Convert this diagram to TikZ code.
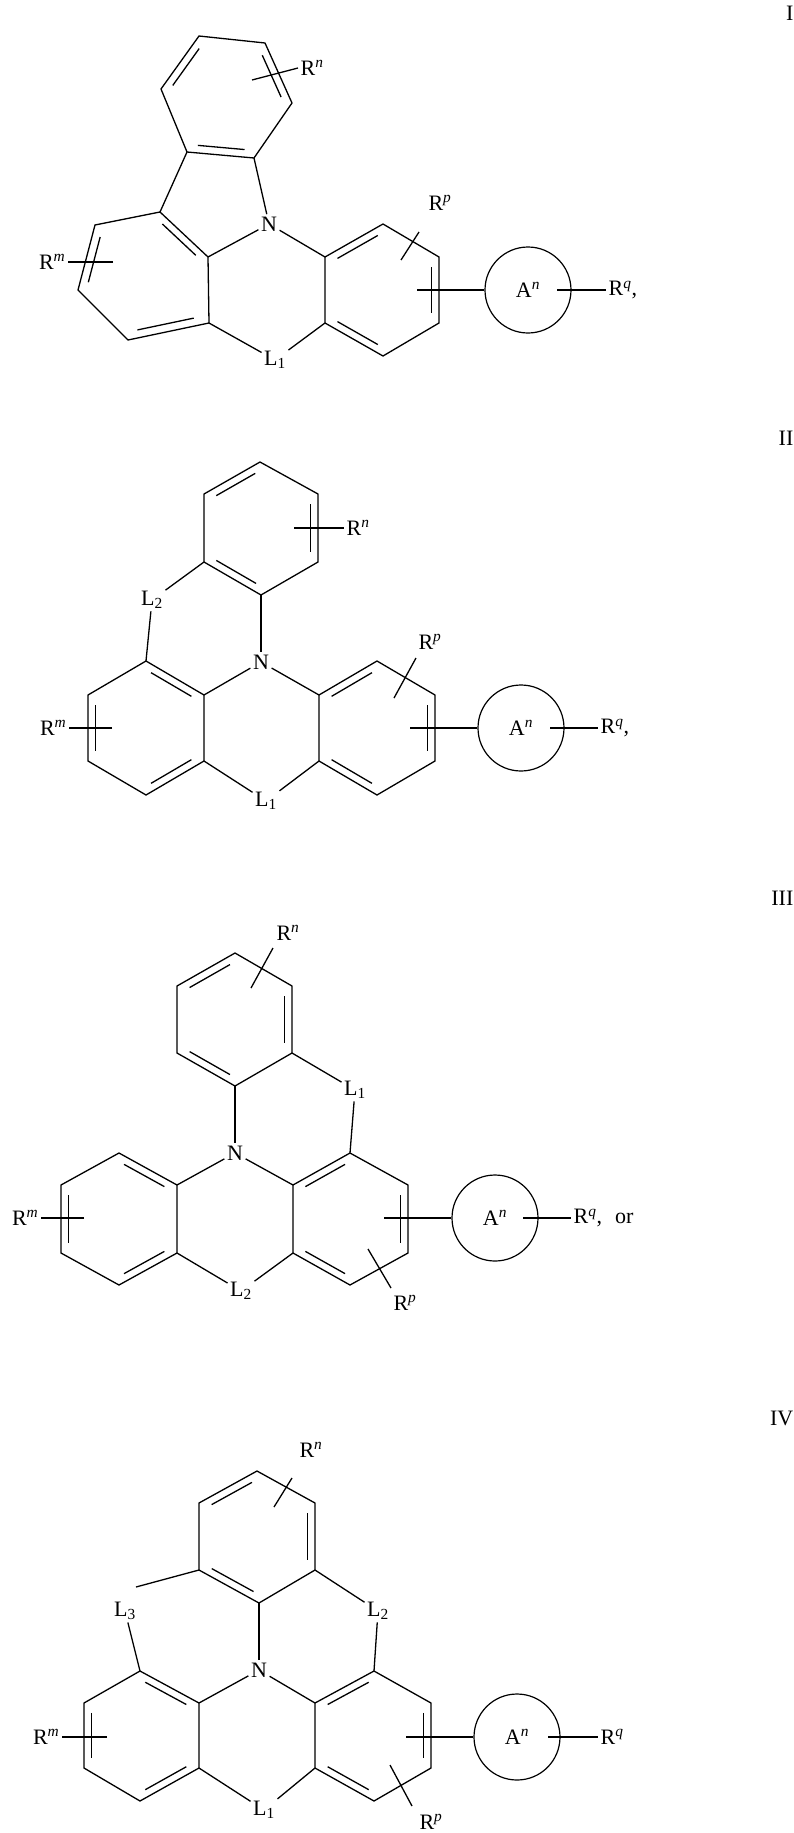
\documentclass[tikz,border=0pt]{standalone}
\usepackage{fontspec}
\setmainfont{Liberation Serif}
\usetikzlibrary{calc}
\newcommand\dbond[3]{\draw ($($(#1)!0.13!(#3)$)!0.1!($(#2)!0.13!(#3)$)$) -- ($($(#2)!0.13!(#3)$)!0.1!($(#1)!0.13!(#3)$)$);}
\newcommand\Rlab[1]{R\textsuperscript{\itshape #1}}
\begin{document}
\begin{tikzpicture}[x=1pt,y=-1pt,line width=1.3pt,
  lab/.style={inner sep=2pt,font=\fontsize{22}{24}\selectfont},
  ring/.style={draw,circle,minimum size=86pt,inner sep=0pt,line width=1.2pt,font=\fontsize{22}{24}\selectfont}]
\useasboundingbox (0,0) rectangle (794,1833);
% ================= I =================
\node[lab,anchor=north east] (tI) at (796,3) {I};
\coordinate (t1) at (199,36); \coordinate (t2) at (265,43); \coordinate (t3) at (292,103);
\coordinate (t4) at (254,158); \coordinate (t5) at (187,152); \coordinate (t6) at (161,89);
\coordinate (tc) at (226,97);
\coordinate (l1) at (160,212); \coordinate (l2) at (95,225); \coordinate (l3) at (78,290);
\coordinate (l4) at (128,340); \coordinate (l5) at (209,323); \coordinate (l6) at (208,257);
\coordinate (lc) at (146,274);
\coordinate (r1) at (325,257); \coordinate (r2) at (383,224); \coordinate (r3) at (439,257);
\coordinate (r4) at (439,323); \coordinate (r5) at (383,356); \coordinate (r6) at (325,323);
\coordinate (rc) at (382,290);
\node[lab] (N1) at (269,224) {N};
\node[lab] (L11) at (275,360) {L\textsubscript{1}};
\draw (t1)--(t2)--(t3)--(t4)--(t5)--(t6)--cycle;
\dbond{t6}{t1}{tc}\dbond{t2}{t3}{tc}\dbond{t4}{t5}{tc}
\draw (t5)--(l1); \draw (t4)--(N1); \draw (N1)--(l6); \draw (N1)--(r1);
\draw (l1)--(l2)--(l3)--(l4)--(l5)--(l6)--cycle;
\dbond{l1}{l6}{lc}\dbond{l2}{l3}{lc}\dbond{l4}{l5}{lc}
\draw (r1)--(r2)--(r3)--(r4)--(r5)--(r6)--cycle;
\dbond{r1}{r2}{rc}\dbond{r3}{r4}{rc}\dbond{r5}{r6}{rc}
\draw (l5)--(L11)--(r6);
\node[lab,anchor=west] (Rn1) at (298,68) {\Rlab{n}};
\coordinate (bn1) at (252,80); \draw (bn1)--(Rn1.west);
\node[lab] (Rp1) at (440,203) {\Rlab{p}};
\coordinate (bp1) at (401,260); \coordinate (bp1b) at (419,232); \draw (bp1)--(bp1b);
\node[lab,anchor=east] (Rm1) at (68,262) {\Rlab{m}};
\coordinate (bm1) at (113,262); \draw (bm1)--(Rm1.east);
\node[ring] (A1) at (528,290) {A\textsuperscript{\itshape n}};
\coordinate (ba1) at (417,290); \draw (ba1)--(A1.west);
\node[lab,anchor=west] (Rq1) at (606,290) {\Rlab{q},};
\coordinate (bq1) at (557,290); \draw (bq1)--(Rq1.west);
% ================= II =================
\node[lab,anchor=north east] (tII) at (796,428) {II};
\coordinate (u1) at (260,462); \coordinate (u2) at (318,494); \coordinate (u3) at (318,562);
\coordinate (u4) at (261,595); \coordinate (u5) at (204,562); \coordinate (u6) at (204,494);
\coordinate (uc) at (261,528);
\coordinate (m1) at (146,661); \coordinate (m2) at (88,695); \coordinate (m3) at (88,761);
\coordinate (m4) at (146,795); \coordinate (m5) at (204,761); \coordinate (m6) at (204,695);
\coordinate (mc) at (146,728);
\coordinate (s1) at (319,695); \coordinate (s2) at (377,661); \coordinate (s3) at (435,695);
\coordinate (s4) at (435,761); \coordinate (s5) at (377,795); \coordinate (s6) at (319,761);
\coordinate (sc) at (377,728);
\node[lab] (N2) at (261,662) {N};
\node[lab] (L12) at (266,801) {L\textsubscript{1}};
\node[lab] (L22) at (152,600) {L\textsubscript{2}};
\draw (u1)--(u2)--(u3)--(u4)--(u5)--(u6)--cycle;
\dbond{u6}{u1}{uc}\dbond{u2}{u3}{uc}\dbond{u4}{u5}{uc}
\draw (m1)--(m2)--(m3)--(m4)--(m5)--(m6)--cycle;
\dbond{m1}{m6}{mc}\dbond{m2}{m3}{mc}\dbond{m4}{m5}{mc}
\draw (s1)--(s2)--(s3)--(s4)--(s5)--(s6)--cycle;
\dbond{s1}{s2}{sc}\dbond{s3}{s4}{sc}\dbond{s5}{s6}{sc}
\draw (u4)--(N2); \draw (N2)--(m6); \draw (N2)--(s1);
\draw (m5)--(L12)--(s6);
\draw (u5)--(L22); \draw (L22)--(m1);
\node[lab,anchor=west] (Rn2) at (344,528) {\Rlab{n}};
\coordinate (bn2) at (294,528); \draw (bn2)--(Rn2.west);
\node[lab] (Rp2) at (430,642) {\Rlab{p}};
\coordinate (bp2) at (394,698); \coordinate (bp2b) at (416,658); \draw (bp2)--(bp2b);
\node[lab,anchor=east] (Rm2) at (69,728) {\Rlab{m}};
\coordinate (bm2) at (112,728); \draw (bm2)--(Rm2.east);
\node[ring] (A2) at (521,728) {A\textsuperscript{\itshape n}};
\coordinate (ba2) at (410,728); \draw (ba2)--(A2.west);
\node[lab,anchor=west] (Rq2) at (598,728) {\Rlab{q},};
\coordinate (bq2) at (550,728); \draw (bq2)--(Rq2.west);
% ================= III =================
\node[lab,anchor=north east] (tIII) at (796,888) {III};
\coordinate (v1) at (235,953); \coordinate (v2) at (292,986); \coordinate (v3) at (292,1053);
\coordinate (v4) at (235,1086); \coordinate (v5) at (177,1053); \coordinate (v6) at (177,986);
\coordinate (vc) at (235,1020);
\coordinate (n1) at (119,1153); \coordinate (n2) at (61,1185); \coordinate (n3) at (61,1253);
\coordinate (n4) at (119,1285); \coordinate (n5) at (177,1253); \coordinate (n6) at (177,1185);
\coordinate (nc) at (119,1219);
\coordinate (w1) at (293,1185); \coordinate (w2) at (350,1153); \coordinate (w3) at (408,1185);
\coordinate (w4) at (408,1253); \coordinate (w5) at (350,1285); \coordinate (w6) at (293,1253);
\coordinate (wc) at (350,1219);
\node[lab] (N3) at (235,1153) {N};
\node[lab] (L13) at (355,1090) {L\textsubscript{1}};
\node[lab] (L23) at (241,1291) {L\textsubscript{2}};
\draw (v1)--(v2)--(v3)--(v4)--(v5)--(v6)--cycle;
\dbond{v6}{v1}{vc}\dbond{v2}{v3}{vc}\dbond{v4}{v5}{vc}
\draw (n1)--(n2)--(n3)--(n4)--(n5)--(n6)--cycle;
\dbond{n1}{n6}{nc}\dbond{n2}{n3}{nc}\dbond{n4}{n5}{nc}
\draw (w1)--(w2)--(w3)--(w4)--(w5)--(w6)--cycle;
\dbond{w1}{w2}{wc}\dbond{w3}{w4}{wc}\dbond{w5}{w6}{wc}
\draw (v4)--(N3); \draw (N3)--(n6); \draw (N3)--(w1);
\draw (v3)--(L13); \draw (L13)--(w2);
\draw (n5)--(L23)--(w6);
\node[lab] (Rn3) at (288,933) {\Rlab{n}};
\coordinate (bn3) at (251,988); \coordinate (bn3b) at (273,948); \draw (bn3)--(bn3b);
\node[lab] (Rp3) at (405,1303) {\Rlab{p}};
\coordinate (bp3) at (368,1249); \coordinate (bp3b) at (391,1288); \draw (bp3)--(bp3b);
\node[lab,anchor=east] (Rm3) at (41,1218) {\Rlab{m}};
\coordinate (bm3) at (84,1218); \draw (bm3)--(Rm3.east);
\node[ring] (A3) at (495,1218) {A\textsuperscript{\itshape n}};
\coordinate (ba3) at (384,1218); \draw (ba3)--(A3.west);
\node[lab,anchor=west] (Rq3) at (571,1218) {\Rlab{q},\hspace{0.6em}or};
\coordinate (bq3) at (523,1218); \draw (bq3)--(Rq3.west);
% ================= IV =================
\node[lab,anchor=north east] (tIV) at (796,1408) {IV};
\coordinate (x1) at (257,1471); \coordinate (x2) at (315,1503); \coordinate (x3) at (315,1570);
\coordinate (x4) at (259,1603); \coordinate (x5) at (199,1570); \coordinate (x6) at (199,1503);
\coordinate (xc) at (257,1537);
\coordinate (k1) at (140,1671); \coordinate (k2) at (84,1703); \coordinate (k3) at (84,1768);
\coordinate (k4) at (140,1801); \coordinate (k5) at (199,1768); \coordinate (k6) at (199,1703);
\coordinate (kc) at (141,1736);
\coordinate (z1) at (315,1703); \coordinate (z2) at (374,1671); \coordinate (z3) at (431,1703);
\coordinate (z4) at (431,1768); \coordinate (z5) at (374,1801); \coordinate (z6) at (315,1768);
\coordinate (zc) at (373,1736);
\node[lab] (N4) at (259,1670) {N};
\node[lab] (L14) at (264,1810) {L\textsubscript{1}};
\node[lab] (L24) at (378,1611) {L\textsubscript{2}};
\node[lab] (L34) at (125,1611) {L\textsubscript{3}};
\draw (x1)--(x2)--(x3)--(x4)--(x5)--(x6)--cycle;
\dbond{x6}{x1}{xc}\dbond{x2}{x3}{xc}\dbond{x4}{x5}{xc}
\draw (k1)--(k2)--(k3)--(k4)--(k5)--(k6)--cycle;
\dbond{k1}{k6}{kc}\dbond{k2}{k3}{kc}\dbond{k4}{k5}{kc}
\draw (z1)--(z2)--(z3)--(z4)--(z5)--(z6)--cycle;
\dbond{z1}{z2}{zc}\dbond{z3}{z4}{zc}\dbond{z5}{z6}{zc}
\draw (x4)--(N4); \draw (N4)--(k6); \draw (N4)--(z1);
\draw (k5)--(L14)--(z6);
\draw (x3)--(L24); \draw (L24)--(z2);
\draw (L34)--(k1);
\coordinate (me4) at (136,1587); \draw (x5)--(me4);
\node[lab] (Rn4) at (311,1450) {\Rlab{n}};
\coordinate (bn4) at (274,1507); \coordinate (bn4b) at (292,1478); \draw (bn4)--(bn4b);
\node[lab] (Rp4) at (431,1822) {\Rlab{p}};
\coordinate (bp4) at (390,1765); \coordinate (bp4b) at (412,1806); \draw (bp4)--(bp4b);
\node[lab,anchor=east] (Rm4) at (62,1737) {\Rlab{m}};
\coordinate (bm4) at (107,1737); \draw (bm4)--(Rm4.east);
\node[ring] (A4) at (517,1737) {A\textsuperscript{\itshape n}};
\coordinate (ba4) at (406,1737); \draw (ba4)--(A4.west);
\node[lab,anchor=west] (Rq4) at (598,1737) {\Rlab{q}};
\coordinate (bq4) at (548,1737); \draw (bq4)--(Rq4.west);
\end{tikzpicture}
\end{document}
